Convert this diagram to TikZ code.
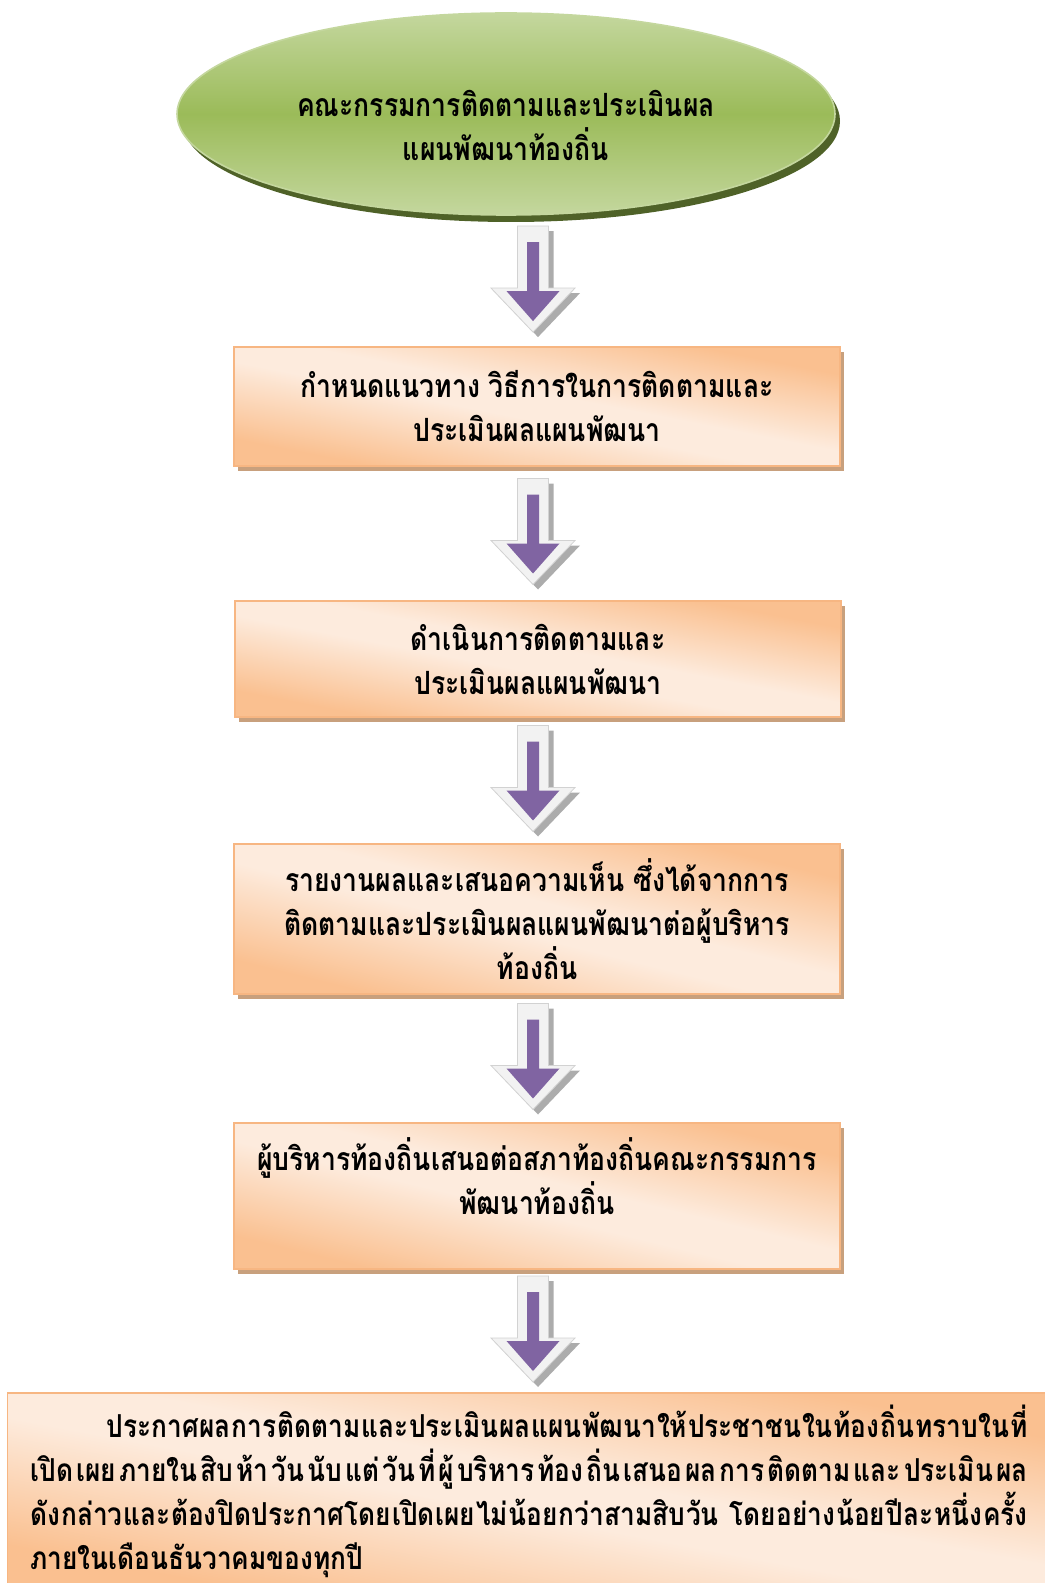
\documentclass[tikz,border=0pt]{standalone}
\usepackage{fontspec}
\newfontfamily\thaifont[Script=Thai,FakeStretch=0.83]{Loma}
\usetikzlibrary{shapes.geometric,shadows,calc}
\XeTeXlinebreaklocale "th"
\XeTeXlinebreakskip=0pt plus 1pt
\definecolor{greenM}{RGB}{155,187,89}
\definecolor{greenL}{RGB}{196,215,158}
\definecolor{greenS}{RGB}{79,98,40}
\definecolor{orangeB}{RGB}{247,182,130}
\definecolor{boxshadow}{RGB}{200,160,125}
\definecolor{arrowfill}{RGB}{128,100,162}
\definecolor{arrowface}{RGB}{242,242,242}
\pgfdeclarefunctionalshading{orangeglow}{\pgfpoint{0bp}{0bp}}{\pgfpoint{100bp}{100bp}}{}{
  add 100 sub 50 div abs 0.12 sub dup 0 lt {pop 0} if 0.65 div dup 1 gt {pop 1} if
  dup -0.012 mul 0.992 add exch
  dup -0.169 mul 0.922 add exch
  -0.302 mul 0.867 add
}
\tikzset{downarrow/.pic={
  \filldraw[draw=gray!35, fill=arrowface, line width=0.4pt,
    drop shadow={shadow xshift=2.5pt, shadow yshift=-2.5pt, fill=gray!65, opacity=1}]
    (-15.5,-52) -- (15.5,-52) -- (15.5,10) -- (42,10) -- (0,54) -- (-42,10) -- (-15.5,10) -- cycle;
  \fill[arrowfill] (-6,-36) -- (6,-36) -- (6,13) -- (26.5,13) -- (0,43) -- (-26.5,13) -- (-6,13) -- cycle;
}}

\begin{document}
\begin{tikzpicture}[x=0.5pt,y=-0.5pt,font=\thaifont\bfseries\fontsize{16}{22}\selectfont]
  \tikzstyle{committee}=[ellipse, draw=greenL, line width=0.8pt, top color=greenL, bottom color=greenL, middle color=greenM,
    minimum width=329pt, minimum height=101pt, inner sep=0pt, align=center,
    drop shadow={shadow xshift=2.5pt, shadow yshift=-3.5pt, fill=greenS, opacity=1}]
  \tikzstyle{stagebox}=[rectangle, draw=orangeB, line width=0.6pt, shade, shading=orangeglow,
    minimum width=303pt, inner sep=0pt, align=center,
    drop shadow={shadow xshift=2pt, shadow yshift=-2.5pt, fill=boxshadow, opacity=1}]

  \useasboundingbox (0,0) rectangle (1044,1583);

  \node [committee] (board) at (506,114) {\mbox{}\\[3pt]คณะกรรมการติดตามและประเมินผล\\แผนพัฒนาท้องถิ่น};
  \node [stagebox, minimum height=59.5pt] (plan) at (537,406.5) {กำหนดแนวทาง วิธีการในการติดตามและ\\ประเมินผลแผนพัฒนา};
  \node [stagebox, minimum height=58pt] (track) at (538,659) {ดำเนินการติดตามและ\\ประเมินผลแผนพัฒนา};
  \node [stagebox, minimum height=75pt] (report) at (537,919) {รายงานผลและเสนอความเห็น ซึ่งได้จากการ\\ติดตามและประเมินผลแผนพัฒนาต่อผู้บริหาร\\ท้องถิ่น};
  \node [stagebox, minimum height=73pt] (propose) at (537,1196) {ผู้บริหารท้องถิ่นเสนอต่อสภาท้องถิ่นคณะกรรมการ\\พัฒนาท้องถิ่น\\[-2pt]\mbox{}};
  \node [stagebox, minimum width=521.5pt, minimum height=98.5pt, text width=498.5pt, inner xsep=11.5pt,
    align=justify, anchor=west, font=\thaifont\bfseries\fontsize{15.8}{22}\selectfont] (announce) at (7,1491.5)
    {\tolerance=9999\hspace*{38pt}ประกาศผลการติดตามและประเมินผลแผนพัฒนาให้ประชาชนในท้องถิ่นทราบในที่\linebreak เปิดเผยภายในสิบห้าวันนับแต่วันที่ผู้บริหารท้องถิ่นเสนอผลการติดตามและประเมินผล\linebreak ดังกล่าวและต้องปิดประกาศโดยเปิดเผยไม่น้อยกว่าสามสิบวัน โดยอย่างน้อยปีละหนึ่งครั้ง\linebreak ภายในเดือนธันวาคมของทุกปี};

  \foreach \a/\b in {board/plan, plan/track, track/report, report/propose, propose/announce}
    \pic at ($(plan.north |- \a.south)!.5!(plan.north |- \b.north) + (-4,-3)$) {downarrow};
\end{tikzpicture}
\end{document}
